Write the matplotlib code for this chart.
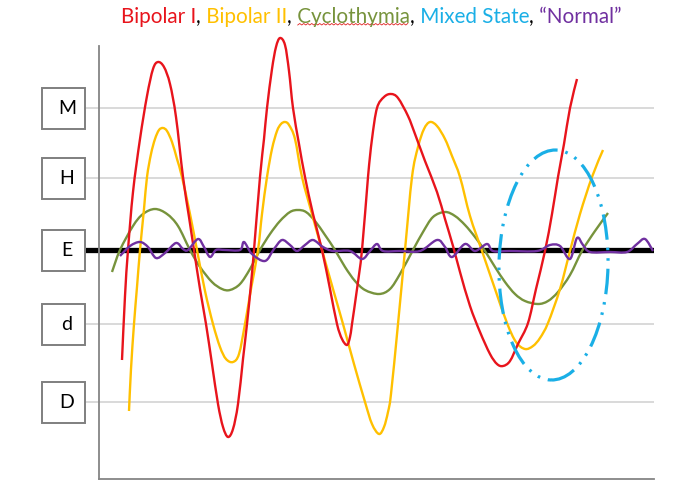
import numpy as np
import matplotlib
matplotlib.use('Agg')
import matplotlib.pyplot as plt
from matplotlib.patches import Ellipse, Rectangle, PathPatch
from matplotlib.path import Path

# mood levels shown in the boxes on the left and their guide lines
levels = ['M', 'H', 'E', 'd', 'D']
level_y = [142, 72, 0, -74, -152]

# Bipolar I
bp1_t = [23, 26, 29, 34, 41, 48, 54, 59, 65, 71, 77, 84, 90, 95, 101, 107, 113, 119, 124, 129,
         134, 139, 144, 148, 152, 155, 161, 165, 168, 173, 177, 181, 186, 190, 194, 200, 206, 214,
         223, 231, 238, 243, 248, 251, 253, 258, 263, 269, 273, 278, 285, 292, 299, 309, 316, 326,
         338, 346, 354, 361, 371, 381, 391, 398, 404, 411, 419, 429, 437, 446, 453, 459, 465, 471, 478]
bp1_y = [-110, -46, 0, 58, 111, 154, 181, 188, 183, 166, 133, 73, 33, 0, -39, -74, -114, -154, -177, -187,
         -179, -154, -109, -74, -34, 0, 73, 111, 142, 181, 203, 212, 205, 179, 142, 106, 73, 36,
         0, -39, -74, -89, -95, -87, -74, -39, 0, 73, 111, 142, 153, 156, 152, 134, 116, 89,
         58, 31, 4, -22, -56, -82, -104, -114, -116, -111, -94, -73, -39, -1, 36, 73, 106, 142, 171]

# Bipolar II
bp2_t = [30, 32, 35, 38, 41, 45, 48, 52, 56, 60, 64, 68, 73, 78, 83, 91, 98, 106, 114, 121, 127,
         134, 140, 146, 152, 159, 163, 168, 173, 178, 182, 186, 190, 196, 203, 213, 223, 234, 244,
         255, 266, 273, 280, 285, 289, 292, 299, 306, 313, 319, 325, 331, 338, 346, 353,
         361, 371, 383, 396, 408, 417, 426, 434, 441, 449, 461, 471, 481, 493, 504]
bp2_y = [-161, -119, -74, -37, 0, 41, 73, 96, 111, 120, 122, 119, 108, 91, 73, 36, 0, -41, -74, -97, -109,
         -112, -104, -74, -39, 0, 36, 73, 101, 119, 126, 128, 125, 111, 73, 36, 0, -39, -74,
         -114, -152, -174, -184, -177, -162, -144, -74, 0, 73, 103, 121, 128, 124, 111, 94,
         73, 34, -1, -39, -73, -92, -99, -96, -88, -73, -39, -1, 36, 73, 100]

# Cyclothymia
cyc_t = [13, 21, 34, 44, 56, 68, 79, 91, 101, 113, 123, 131, 141, 151, 161, 171, 181, 191, 199, 207,
         216, 226, 236, 246, 256, 266, 280, 291, 301, 314, 324, 334, 346, 356, 366, 376, 386, 396,
         406, 416, 426, 439, 449, 459, 471, 483, 496, 509]
cyc_y = [-22, 0, 24, 36, 41, 36, 24, 0, -17, -32, -39, -40, -34, -19, 0, 16, 29, 38, 40, 38,
         29, 15, 0, -17, -31, -40, -44, -39, -24, 0, 18, 33, 38, 34, 25, 13, -1, -17,
         -32, -44, -51, -54, -51, -42, -25, -1, 19, 37]

# "Normal"
nrm_t = [21, 31, 41, 49, 57, 66, 77, 84, 89, 99, 105, 111, 117, 126, 141, 145, 153, 166, 175, 183,
         191, 198, 206, 214, 224, 234, 251, 263, 271, 278, 284, 301, 321, 338, 346, 353, 366, 376,
         388, 394, 411, 438, 451, 461, 471, 478, 484, 491, 511, 528, 538, 546, 554]
nrm_y = [-6, 4, 8, 3, -8, -3, 7, 1, 0, 11, 3, -7, 0, 0, 0, 8, -4, -11, 1, 10,
         5, -1, 5, 10, 3, -1, -1, -9, -1, 6, -1, -1, -1, 10, 3, -7, 6, -1,
         6, -1, -1, -1, 5, 4, -9, 12, 5, -2, -2, -2, 6, 11, -1]

# Mixed state region
mixed_center = (454.5, -15)
mixed_size = (109, 230)

red = '#E8141C'
yellow = '#FFC000'
olive = '#77933C'
blue = '#1AAFE6'
purple = '#7030A0'


def smooth_path(t, y):
    # Excel-style smoothed line: cubic Bezier segments through the points
    p = np.column_stack([t, y]).astype(float)
    p = np.vstack([p[0], p, p[-1]])
    verts = [p[1]]
    codes = [Path.MOVETO]
    for i in range(1, len(p) - 2):
        c1 = p[i] + (p[i + 1] - p[i - 1]) / 6
        c2 = p[i + 1] - (p[i + 2] - p[i]) / 6
        verts += [c1, c2, p[i + 1]]
        codes += [Path.CURVE4] * 3
    return Path(verts, codes)


fig = plt.figure(figsize=(7, 4.85), dpi=100)
ax = fig.add_axes([85 / 700, 5 / 485, 569 / 700, 459 / 485])
ax.set_xlim(-14, 555)
ax.set_ylim(-229, 230)
ax.set_xticks([])
ax.set_yticks([])
for s in ['top', 'right']:
    ax.spines[s].set_visible(False)
ax.spines['left'].set_position(('data', 0))
ax.spines['left'].set_bounds(-229, 204)
ax.spines['bottom'].set_bounds(0, 555)
for s in ['left', 'bottom']:
    ax.spines[s].set_color('#858585')
    ax.spines[s].set_linewidth(1.3)

for lab, y in zip(levels, level_y):
    if lab == 'E':
        ax.hlines(y, -14, 555, color='black', lw=3.8, zorder=2)
    else:
        ax.hlines(y, -14, 555, color='#D9D9D9', lw=1.4, zorder=1)
    ax.add_patch(Rectangle((-57, y - 20.5), 43, 41, fc='white', ec='#7F7F7F',
                           lw=1.4, clip_on=False, zorder=3))
    ax.text(-32, y, lab, ha='center', va='center', fontsize=14, family='Lato',
            clip_on=False, zorder=4)

for t, y, c, z in [(cyc_t, cyc_y, olive, 3), (bp2_t, bp2_y, yellow, 4),
                   (bp1_t, bp1_y, red, 5), (nrm_t, nrm_y, purple, 6)]:
    ax.add_patch(PathPatch(smooth_path(t, y), fill=False, ec=c, lw=1.7, zorder=z,
                           capstyle='butt', joinstyle='round'))

ax.add_patch(Ellipse(mixed_center, mixed_size[0], mixed_size[1], angle=-1.2, fill=False,
                     ec=blue, lw=2.3, ls=(0, (8, 2.5, 0.8, 2.5, 0.8, 2.5)), zorder=7))

# title made of coloured pieces
pieces = [('Bipolar I', red), (',', 'black'), (' Bipolar II', yellow), (',', 'black'),
          (' Cyclothymia', olive), (',', 'black'), (' Mixed State', blue), (',', 'black'),
          (' \u201cNormal\u201d', purple)]
r = fig.canvas.get_renderer()
texts = [fig.text(0, 1 - 17 / 485, s, color=c, fontsize=14.9, family='Lato', va='center')
         for s, c in pieces]
widths = [t.get_window_extent(r).width for t in texts]
x = 371 - sum(widths) / 2
for t, w in zip(texts, widths):
    t.set_x(x / 700)
    x += w

# spell-check squiggle under "Cyclothymia"
bb = texts[4].get_window_extent(r)
sx = np.arange(bb.x0 + 6, bb.x1, 2.0)
sy = bb.y0 + 1 + np.where(np.arange(len(sx)) % 2 == 0, 0, 1.5)
fig.add_artist(plt.Line2D(sx / 700, sy / 485, color='#E02020', lw=0.6))

fig.savefig('out.png', dpi=100)
